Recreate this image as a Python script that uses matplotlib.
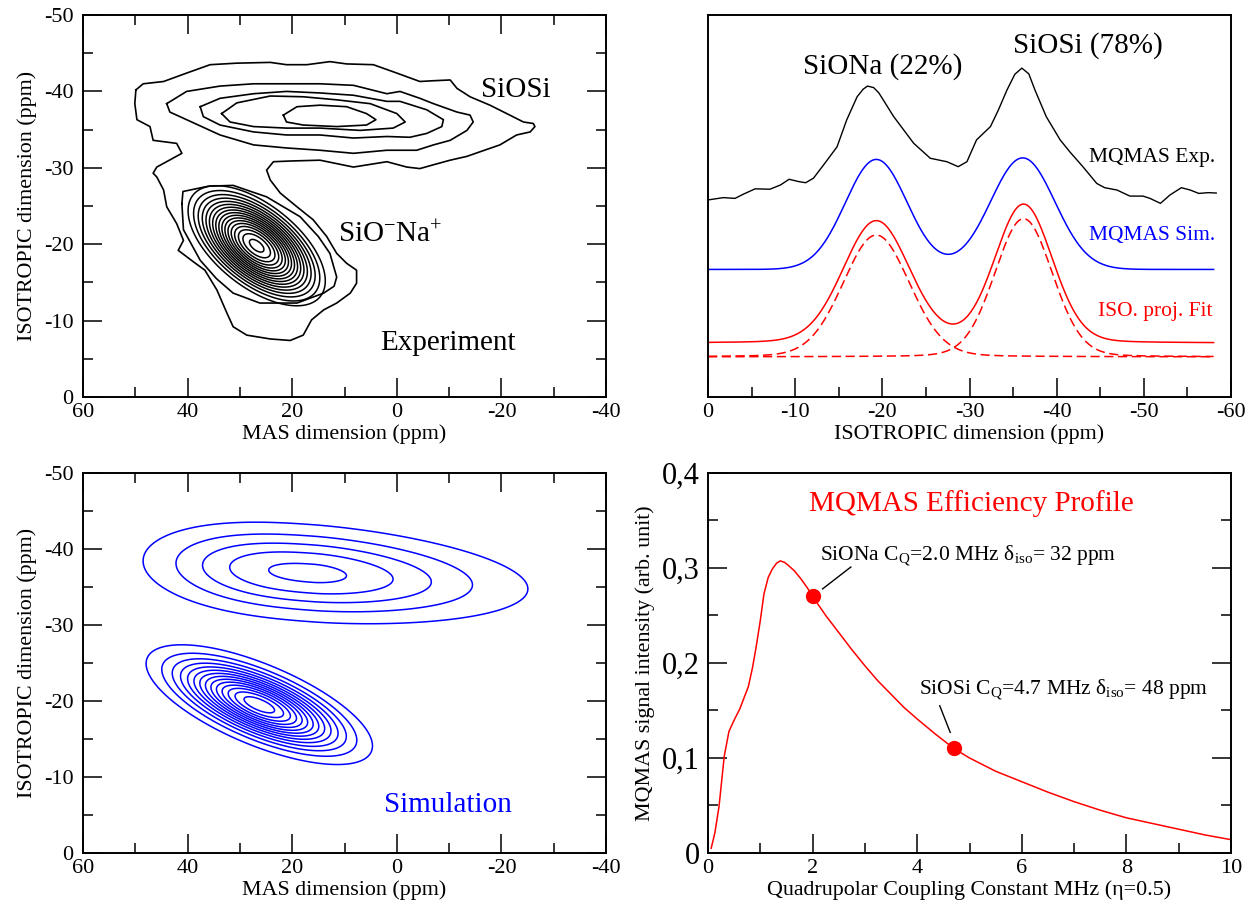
import numpy as np
import matplotlib
matplotlib.use("Agg")
import matplotlib.pyplot as plt
from matplotlib.ticker import MultipleLocator, FuncFormatter

plt.rcParams['font.family'] = ['Liberation Serif', 'DejaVu Serif']
plt.rcParams['mathtext.fontset'] = 'custom'
plt.rcParams['mathtext.rm'] = 'Liberation Serif'
plt.rcParams['mathtext.it'] = 'Liberation Serif:italic'
plt.rcParams['axes.unicode_minus'] = False

# ---- 2D MQMAS experiment: traced low-level contours (MAS ppm, ISO ppm) ----
exp_outer_mas = [49.9, 48.5, 44.6, 40.2, 35.7, 30.6, 24.2, 21.1, 17.2, 12.8, 9.6, 4.5, 0.0, -4.4, -7.0,
                 -10.2, -11.5, -14.0, -17.8, -21.6, -24.2, -26.1, -26.4, -25.5, -22.9, -19.7, -15.9,
                 -13.4, -10.2, -7.0, -4.4, -1.9, 1.9, 8.3, 14.7, 20.0, 23.6, 24.9, 24.2, 22.3, 19.1,
                 16.0, 13.4, 11.5, 9.6, 7.7, 7.7, 8.9, 11.5, 14.0, 16.3, 17.9, 20.4, 24.2, 28.7, 31.3,
                 32.5, 34.4, 36.7, 38.9, 41.8, 40.8, 42.1, 44.0, 44.6, 45.9, 46.6, 45.9, 41.1,
                 42.1, 46.6, 47.2, 49.7, 50.1, 49.9]
exp_outer_iso = [-40.2, -41.0, -41.3, -42.4, -43.5, -43.7, -43.8, -43.5, -43.5, -43.9, -43.6, -43.5,
                 -42.4, -41.3, -41.4, -41.5, -40.4, -39.3, -38.2, -36.9, -36.0, -35.8, -35.4, -34.7,
                 -34.3, -33.0, -32.1, -31.5, -31.0, -30.4, -29.9, -30.1, -30.8, -30.1, -31.0, -30.9,
                 -30.8, -29.7, -28.4, -26.7, -24.9, -23.2, -21.0, -18.8, -17.5, -16.6, -14.9, -13.6,
                 -12.3, -11.4, -10.1, -8.1, -7.4, -7.6, -8.1, -9.2, -11.0, -14.0, -16.6, -17.7,
                 -19.2, -20.5, -22.7, -24.9, -27.1, -28.8, -29.3, -30.1, -31.9, -33.2,
                 -33.6, -35.4, -36.3, -38.4, -40.2]

exp_ring2_mas = [44.0, 40.2, 33.8, 27.4, 21.1, 14.7, 8.3, 1.9, -0.6, -4.4, -7.0, -11.5, -14.0, -14.6,
                 -13.4, -10.2, -7.0, -3.8, 1.9, 8.3, 14.7, 21.1, 27.4, 33.8, 40.2, 43.4, 44.0]
exp_ring2_iso = [-38.4, -40.0, -40.7, -41.0, -41.0, -41.0, -40.8, -39.7, -40.0, -39.1, -38.4, -37.3,
                 -36.9, -36.0, -34.9, -33.6, -33.0, -32.3, -32.3, -31.9, -32.3, -32.6, -33.0, -34.3,
                 -36.3, -37.3, -38.4]

exp_ring3_mas = [37.6, 33.8, 27.4, 21.1, 14.7, 8.3, 1.9, -0.6, -5.7, -8.9, -8.6, -5.7, -2.5, 1.9, 8.3,
                 14.7, 21.1, 27.4, 33.8, 37.0, 37.6]
exp_ring3_iso = [-38.0, -39.1, -39.7, -40.0, -39.8, -39.5, -38.7, -38.7, -37.6, -36.3, -35.4, -34.5,
                 -34.0, -34.1, -33.9, -34.3, -34.3, -34.7, -35.6, -36.7, -38.0]

exp_ring4_mas = [33.5, 30.6, 24.2, 17.9, 11.5, 5.1, 0.0, -1.6, 0.7, 7.0, 14.7, 21.1, 27.4, 31.9, 33.5]
exp_ring4_iso = [-37.1, -38.5, -39.4, -39.3, -38.9, -38.4, -37.1, -36.0, -35.2, -34.9, -35.2, -35.2,
                 -35.4, -36.0, -37.1]

exp_ring5_mas = [21.7, 19.1, 14.7, 9.6, 5.8, 4.0, 5.8, 11.5, 17.9, 21.1, 21.7]
exp_ring5_iso = [-36.9, -38.0, -38.2, -38.0, -37.1, -36.3, -35.6, -35.4, -35.6, -36.0, -36.9]

exp_sionab_mas = [41.1, 40.9, 36.0, 31.3, 24.9, 18.5, 15.0, 12.8, 11.5, 12.0, 14.0, 19.1, 26.2, 31.3,
                  34.5, 37.6, 40.8, 41.1]
exp_sionab_iso = [-25.3, -26.9, -27.6, -27.7, -26.2, -23.6, -21.0, -18.8, -15.7, -14.5, -13.6, -12.3,
                  -12.3, -13.6, -15.5, -17.9, -21.9, -25.3]

# sites: MAS centre, ISO centre, MAS width (high side), MAS width (low side),
#        exponent (high side), exponent (low side), ISO width, slope, height
exp_siona = [26.8, -19.8, 9.6, 9.6, 2.0, 2.0, 3.3, -0.35, 19.4]
exp_levels = list(range(3, 20))

sim_siona = [26.3, -19.5, 13.2, 13.2, 2.0, 2.0, 2.46, -0.25, 14.7]
sim_siosi = [16.0, -36.8, 26.5, 30.9, 2.5, 1.8, 3.5, -0.05, 5.3]
sim_levels = list(range(1, 15))

# ---- isotropic projections ----
proj_exp_ppm = [-0.03, -1.76, -3.1, -4.05, -5.4, -7.1, -8.3, -9.3, -10.4, -11.2, -12.1, -13.4, -14.8,
                -15.9, -17.1, -17.8, -18.3, -19.0, -19.6, -21.3, -23.6, -25.5, -27.4, -28.7, -29.7,
                -30.8, -32.4, -33.3, -34.3, -35.2, -36.0, -36.8, -37.5, -38.8, -40.4, -41.5, -43.0,
                -44.6, -45.5, -46.9, -48.4, -49.9, -50.7, -51.9, -53.0, -54.3, -55.3, -56.3, -57.4,
                -58.3]
proj_exp_int = [51.6, 52.2, 52.0, 53.1, 54.5, 54.4, 55.5, 57.0, 56.4, 56.1, 57.3, 61.2, 65.5, 72.5,
                78.6, 80.6, 81.4, 81.0, 79.6, 73.4, 66.4, 62.5, 61.6, 60.3, 61.6, 67.3, 70.8, 75.1,
                80.4, 84.5, 86.1, 84.6, 80.4, 73.4, 67.3, 64.2, 60.3, 55.9, 54.8, 54.2, 52.6, 52.6,
                52.0, 50.7, 52.9, 54.8, 54.2, 53.3, 53.5, 53.4]

sim_centres = [-19.3, -36.1]
sim_heights = [28.8, 29.2]
sim_sigmas = [3.55, 3.7]
sim_base = 33.4

fit_centres = [-19.3, -36.2]
fit_heights = [31.9, 36.2]
fit_hwhm = [4.5, 3.9]
fit_eta = 0.1
fit_base = 14.1
comp_base = 10.5

# ---- MQMAS efficiency profile ----
cq = [0.06, 0.13, 0.21, 0.31, 0.40, 0.50, 0.61, 0.70, 0.77, 0.85, 0.92, 1.00, 1.07, 1.15, 1.23, 1.31,
      1.38, 1.46, 1.53, 1.65, 1.77, 1.90, 2.00, 2.25, 2.50, 2.75, 3.00, 3.25, 3.50, 3.75, 4.00, 4.35,
      4.70, 5.00, 5.50, 6.00, 6.50, 7.00, 7.50, 8.00, 8.50, 9.00, 9.50, 10.0]
eff = [0.005, 0.021, 0.049, 0.102, 0.128, 0.140, 0.152, 0.165, 0.175, 0.195, 0.217, 0.245, 0.273,
       0.290, 0.299, 0.305, 0.3075, 0.306, 0.303, 0.297, 0.289, 0.279, 0.270, 0.250, 0.232, 0.214,
       0.197, 0.181, 0.167, 0.153, 0.141, 0.125, 0.110, 0.100, 0.086, 0.075, 0.064, 0.054, 0.045,
       0.037, 0.031, 0.025, 0.019, 0.014]
site_cq = [2.0, 4.7]
site_eff = [0.27, 0.11]

LABEL_SIZE = 15.8


def site_field(mas, iso, site):
    x0, y0, s_hi, s_lo, p_hi, p_lo, sy, k, amp = site
    u = mas - x0
    v = iso - y0 - k * u
    s = np.where(u >= 0, s_hi, s_lo)
    p = np.where(u >= 0, p_hi, p_lo)
    return amp * np.exp(-np.abs(u / s) ** p) * np.exp(-v ** 2 / (2 * sy ** 2))


def pvoigt(x, c, h, w, eta):
    t = (x - c) / w
    return h * (eta / (1 + t ** 2) + (1 - eta) * np.exp(-np.log(2) * t ** 2))


def style_2d(ax):
    ax.set_xlim(60, -40)
    ax.set_ylim(0, -50)
    ax.xaxis.set_major_locator(MultipleLocator(20))
    ax.xaxis.set_minor_locator(MultipleLocator(10))
    ax.yaxis.set_major_locator(MultipleLocator(10))
    ax.yaxis.set_minor_locator(MultipleLocator(5))
    ax.tick_params(which='both', direction='in', top=True, right=True, width=1.1, labelsize=16)
    ax.tick_params(axis='x', pad=4)
    ax.tick_params(axis='y', pad=7)
    ax.tick_params(which='major', length=14)
    ax.tick_params(which='minor', length=7)
    ax.set_xlabel('MAS dimension (ppm)', fontsize=LABEL_SIZE, labelpad=2)
    ax.set_ylabel('ISOTROPIC dimension (ppm)', fontsize=LABEL_SIZE, labelpad=5)
    for sp in ax.spines.values():
        sp.set_linewidth(1.4)


fig = plt.figure(figsize=(12.47, 9.11), dpi=100)
ax1 = fig.add_axes([0.0666, 0.5642, 0.4194, 0.4193])
ax2 = fig.add_axes([0.5678, 0.5642, 0.4194, 0.4193])
ax3 = fig.add_axes([0.0666, 0.0637, 0.4194, 0.4171])
ax4 = fig.add_axes([0.5678, 0.0637, 0.4194, 0.4171])

mas_grid, iso_grid = np.meshgrid(np.linspace(-40, 60, 801), np.linspace(-50, 0, 601))

# experiment
for xs, ys in [(exp_outer_mas, exp_outer_iso), (exp_ring2_mas, exp_ring2_iso),
               (exp_ring3_mas, exp_ring3_iso), (exp_ring4_mas, exp_ring4_iso),
               (exp_ring5_mas, exp_ring5_iso), (exp_sionab_mas, exp_sionab_iso)]:
    ax1.plot(xs, ys, color='black', lw=1.2)
z_exp = site_field(mas_grid, iso_grid, exp_siona)
ax1.contour(mas_grid, iso_grid, z_exp, levels=exp_levels, colors='black', linewidths=1.1)
style_2d(ax1)
ax1.text(-22.8, -40.2, 'SiOSi', fontsize=21, ha='center', va='center')
ax1.text(1.3, -21.2, 'SiO$^{-}$Na$^{+}$', fontsize=21, ha='center', va='center')
ax1.text(-9.7, -7.1, 'Experiment', fontsize=21, ha='center', va='center')

# simulation
z_sim = site_field(mas_grid, iso_grid, sim_siona) + site_field(mas_grid, iso_grid, sim_siosi)
ax3.contour(mas_grid, iso_grid, z_sim, levels=sim_levels, colors='blue', linewidths=1.1)
style_2d(ax3)
ax3.text(-9.8, -6.3, 'Simulation', fontsize=21, color='blue', ha='center', va='center')

# isotropic projections
ppm = np.linspace(0, -58, 600)
ax2.plot(proj_exp_ppm, proj_exp_int, color='black', lw=1.0)
sim_curve = sim_base + sum(h * np.exp(-(ppm - c) ** 2 / (2 * s ** 2))
                           for c, h, s in zip(sim_centres, sim_heights, sim_sigmas))
ax2.plot(ppm, sim_curve, color='blue', lw=1.1)
comps = [pvoigt(ppm, c, h, w, fit_eta) for c, h, w in zip(fit_centres, fit_heights, fit_hwhm)]
ax2.plot(ppm, fit_base + comps[0] + comps[1], color='red', lw=1.1)
for comp in comps:
    ax2.plot(ppm, comp_base + comp, color='red', lw=1.1, ls=(0, (6, 3)))
ax2.set_xlim(0, -60)
ax2.set_ylim(0, 100)
ax2.xaxis.set_major_locator(MultipleLocator(10))
ax2.xaxis.set_minor_locator(MultipleLocator(5))
ax2.tick_params(which='both', direction='in', left=False, labelleft=False, width=1.1,
                labelsize=16, pad=4)
ax2.tick_params(which='major', length=14)
ax2.tick_params(which='minor', length=7)
ax2.set_xlabel('ISOTROPIC dimension (ppm)', fontsize=LABEL_SIZE, labelpad=2)
for sp in ax2.spines.values():
    sp.set_linewidth(1.4)
ax2.text(-20.0, 86.4, 'SiONa (22%)', fontsize=21, ha='center', va='center')
ax2.text(-43.6, 92.1, 'SiOSi (78%)', fontsize=21, ha='center', va='center')
ax2.text(-58.2, 62.6, 'MQMAS Exp.', fontsize=15.5, ha='right', va='center')
ax2.text(-58.2, 42.4, 'MQMAS Sim.', fontsize=15.5, color='blue', ha='right', va='center')
ax2.text(-57.9, 22.3, 'ISO. proj. Fit', fontsize=15.5, color='red', ha='right', va='center')

# efficiency profile
ax4.plot(cq, eff, color='red', lw=1.1)
ax4.plot(site_cq, site_eff, 'o', color='red', ms=10)
ax4.plot([2.19, 2.73], [0.278, 0.301], color='black', lw=1.0)
ax4.plot([4.63, 4.43], [0.127, 0.155], color='black', lw=1.0)
ax4.text(2.15, 0.313, 'SiONa C$_{\\mathrm{Q}}$=2.0 MHz δ$_{\\mathrm{iso}}$= 32 ppm',
         fontsize=15.5, ha='left', va='center')
ax4.text(4.03, 0.172, 'SiOSi C$_{\\mathrm{Q}}$=4.7 MHz δ$_{\\mathrm{iso}}$= 48 ppm',
         fontsize=15.5, ha='left', va='center')
ax4.text(5.03, 0.368, 'MQMAS Efficiency Profile', fontsize=21, color='red',
         ha='center', va='center')
ax4.set_xlim(0, 10)
ax4.set_ylim(0, 0.4)
ax4.xaxis.set_major_locator(MultipleLocator(2))
ax4.xaxis.set_minor_locator(MultipleLocator(1))
ax4.yaxis.set_major_locator(MultipleLocator(0.1))
ax4.yaxis.set_minor_locator(MultipleLocator(0.05))
ax4.yaxis.set_major_formatter(FuncFormatter(
    lambda v, pos: '0' if abs(v) < 1e-9 else f'{v:.1f}'.replace('.', ',')))
ax4.tick_params(which='both', direction='in', right=True, width=1.1)
ax4.tick_params(axis='x', labelsize=16, pad=4)
ax4.tick_params(axis='y', labelsize=22, pad=6)
ax4.tick_params(which='major', length=14)
ax4.tick_params(which='minor', length=7)
ax4.set_xlabel('Quadrupolar Coupling Constant MHz (η=0.5)', fontsize=LABEL_SIZE, labelpad=2)
ax4.set_ylabel('MQMAS signal intensity (arb. unit)', fontsize=LABEL_SIZE, labelpad=5)
for sp in ax4.spines.values():
    sp.set_linewidth(1.4)

fig.savefig('out.png', dpi=100)
